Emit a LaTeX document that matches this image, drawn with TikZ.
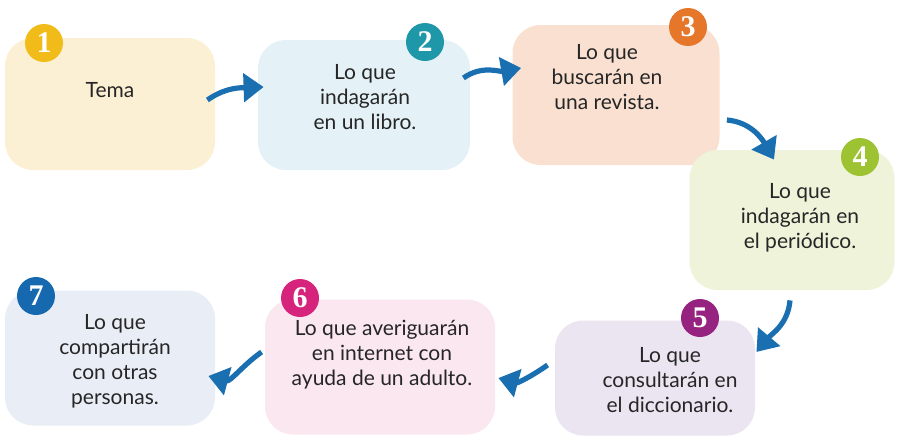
\documentclass[tikz,border=0pt]{standalone}
\usepackage{fontspec}
\setmainfont{Lato}
\newfontfamily\numfont{Liberation Serif}
\usepackage{xcolor}
\usetikzlibrary{arrows.meta}

\definecolor{fill1}{HTML}{FCF0D4}
\definecolor{fill2}{HTML}{E4F1F6}
\definecolor{fill3}{HTML}{F9E0D0}
\definecolor{fill4}{HTML}{EEF3DA}
\definecolor{fill5}{HTML}{EBE4F1}
\definecolor{fill6}{HTML}{FAE7EF}
\definecolor{fill7}{HTML}{E9EDF6}
\definecolor{dot1}{HTML}{F1BC19}
\definecolor{dot2}{HTML}{1E97A8}
\definecolor{dot3}{HTML}{E5762A}
\definecolor{dot4}{HTML}{9DC232}
\definecolor{dot5}{HTML}{95237F}
\definecolor{dot6}{HTML}{D6237B}
\definecolor{dot7}{HTML}{1669AE}
\definecolor{arrowblue}{HTML}{1A6FB0}

\begin{document}
\begin{tikzpicture}[x=0.5pt, y=0.5pt,
    box/.style={rectangle, rounded corners=14pt, inner sep=0pt},
    txt/.style={align=center, font=\fontsize{10.5}{12.5}\selectfont, text=black!85},
    badge/.style={circle, minimum size=19pt, inner sep=0pt, text=white,
        font=\fontsize{15}{15}\selectfont\numfont\bfseries},
    flow/.style={draw=arrowblue, line width=2.6pt, -{Triangle[length=10pt, width=14pt]}}]
    \useasboundingbox (0,0) rectangle (900,441);

    % Boxes
    \path
    (110,337) node[box, fill=fill1, minimum width=105pt, minimum height=66pt] (b1) {}
    (364,336) node[box, fill=fill2, minimum width=106pt, minimum height=65pt] (b2) {}
    (616,346) node[box, fill=fill3, minimum width=103.5pt, minimum height=70pt] (b3) {}
    (792,221) node[box, fill=fill4, minimum width=102.5pt, minimum height=70pt] (b4) {}
    (655,63) node[box, fill=fill5, minimum width=100pt, minimum height=57.5pt] (b5) {}
    (380,74) node[box, fill=fill6, minimum width=115pt, minimum height=67.5pt] (b6) {}
    (110,83) node[box, fill=fill7, minimum width=105pt, minimum height=67.5pt] (b7) {}
    ;

    % Texts
    \path
    (110,351) node[txt] (t1) {Tema}
    (365,344) node[txt] (t2) {Lo que\\indagarán\\en un libro.}
    (607,364) node[txt] (t3) {Lo que\\buscarán en\\una revista.}
    (800,223) node[txt] (t4) {Lo que\\indagarán en\\el periódico.}
    (670,61) node[txt] (t5) {Lo que\\consultarán en\\el diccionario.}
    (382,86) node[txt] (t6) {Lo que averiguarán\\en internet con\\ayuda de un adulto.}
    (115,80) node[txt] (t7) {Lo que\\compartirán\\con otras\\personas.}
    ;

    % Number badges
    \path
    (44,398) node[badge, fill=dot1] (n1) {1}
    (425,399) node[badge, fill=dot2] (n2) {2}
    (688,414) node[badge, fill=dot3] (n3) {3}
    (860,284) node[badge, fill=dot4] (n4) {4}
    (700,123) node[badge, fill=dot5] (n5) {5}
    (300,143) node[badge, fill=dot6] (n6) {6}
    (36,145) node[badge, fill=dot7] (n7) {7}
    ;

    % Arrows
    \draw[flow] ([shift={(-8,4)}]b1.east) to[out=35, in=182] ([shift={(6,18)}]b2.west);
    \draw[flow] ([shift={(-7,27)}]b2.east) to[out=35, in=190] ([shift={(9,27)}]b3.west);
    \draw[flow] ([shift={(7,-25)}]b3.east) to[out=-5, in=120] ([shift={(-18,-10)}]b4.north);
    \draw[flow] ([shift={(-2,-10)}]b4.south) to[out=-95, in=50] ([shift={(1,26)}]b5.east);
    \draw[flow] ([shift={(-7,13)}]b5.west) to[out=215, in=-15] ([shift={(3,-11)}]b6.east);
    \draw[flow] ([shift={(-3,15)}]b6.west) to[out=215, in=-15] ([shift={(-7,-18)}]b7.east);

\end{tikzpicture}
\end{document}
